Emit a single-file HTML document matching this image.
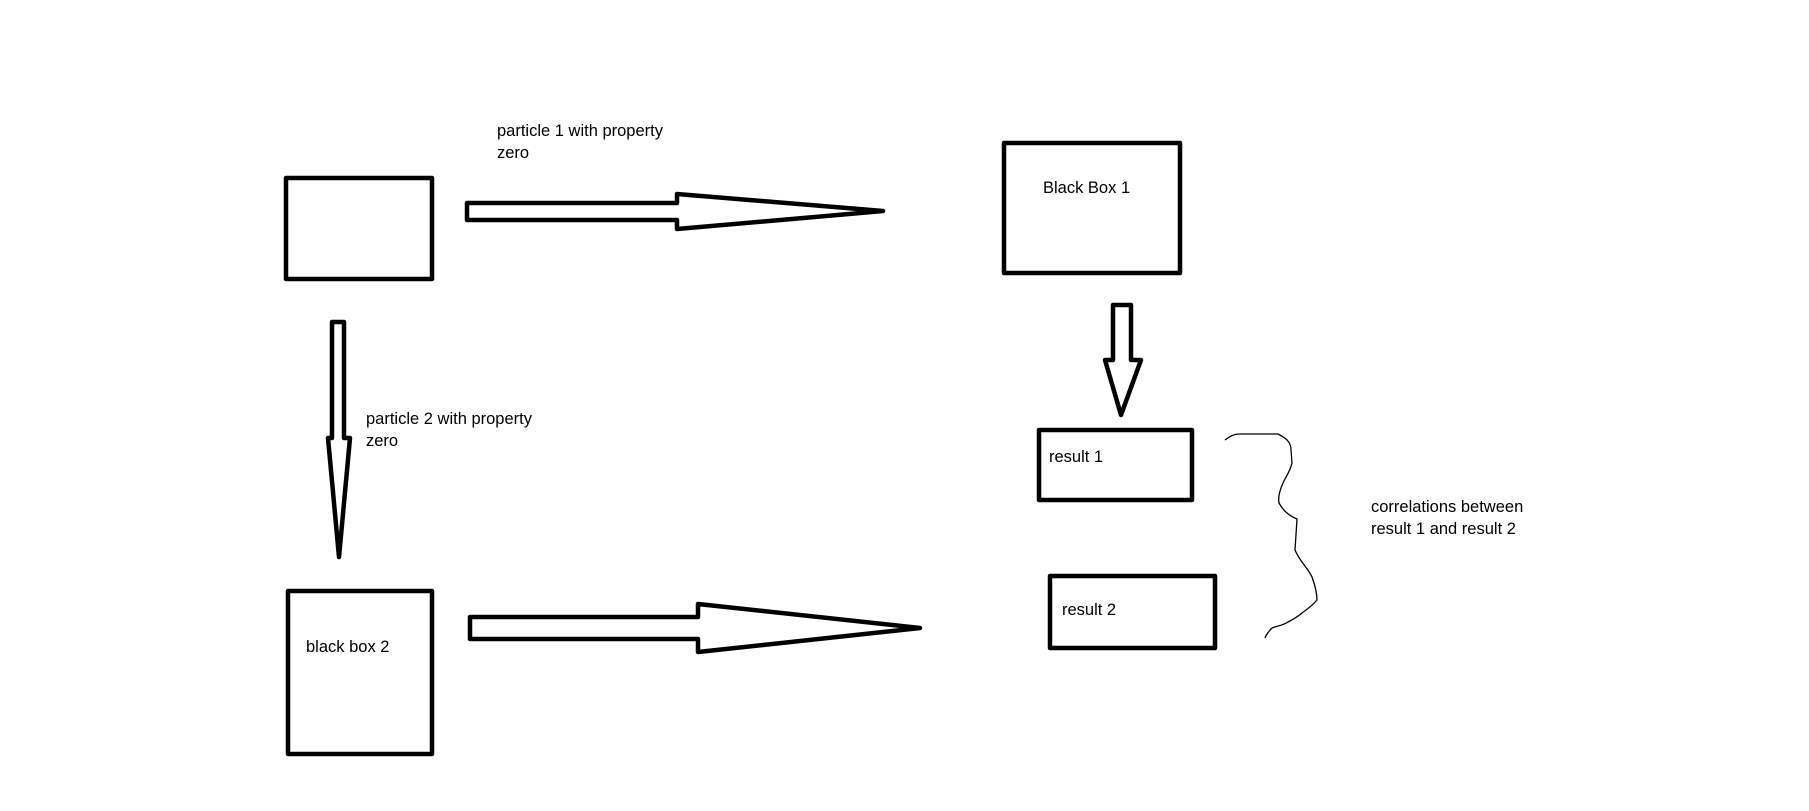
<!DOCTYPE html>
<html><head><style>
body{margin:0;background:#fff;}
svg{display:block}
text{font-family:"Liberation Sans",sans-serif;font-size:16.5px;fill:#000}
</style></head><body>
<svg width="1809" height="811" viewBox="0 0 1809 811">
<g fill="none" stroke="#000" stroke-width="4.5" stroke-linejoin="round">
<rect x="286" y="178" width="146" height="101"/>
<rect x="1004" y="143" width="176" height="130"/>
<rect x="1039" y="430" width="153" height="70"/>
<rect x="1050" y="576" width="165" height="72"/>
<rect x="288" y="591" width="144" height="163"/>
<polygon points="467,203 677,203 677,194 883,211 677,229 677,220 467,220"/>
<polygon points="470,617 698,617 698,604 920,628 698,652 698,639 470,639"/>
<polygon points="332,322 344,322 344,438 350,438 339,557 328,438 332,438"/>
<polygon points="1113,305 1131,305 1131,360 1141,360 1121,415 1105,360 1113,360"/>
</g>
<path d="M1225,440 C1230,436 1234,434 1239,434 L1278,434 C1286,438 1291,442 1291,450 L1292,463 C1290,472 1285,478 1283,483 C1279,492 1278,498 1279,503 C1284,512 1290,516 1297,519 L1295,550 C1300,562 1308,568 1312,577 C1316,588 1317,594 1317,600 C1312,606 1306,610 1302,613 C1296,618 1292,620 1288,622 C1282,626 1276,626 1272,628 C1268,632 1266,635 1265,638" fill="none" stroke="#000" stroke-width="1.3"/>
<text x="497" y="136">particle 1 with property</text>
<text x="497" y="158">zero</text>
<text x="366" y="424">particle 2 with property</text>
<text x="366" y="446">zero</text>
<text x="1043" y="193">Black Box 1</text>
<text x="1049" y="462">result 1</text>
<text x="1062" y="615">result 2</text>
<text x="306" y="652">black box 2</text>
<text x="1371" y="512">correlations between</text>
<text x="1371" y="534">result 1 and result 2</text>
</svg>
</body></html>
